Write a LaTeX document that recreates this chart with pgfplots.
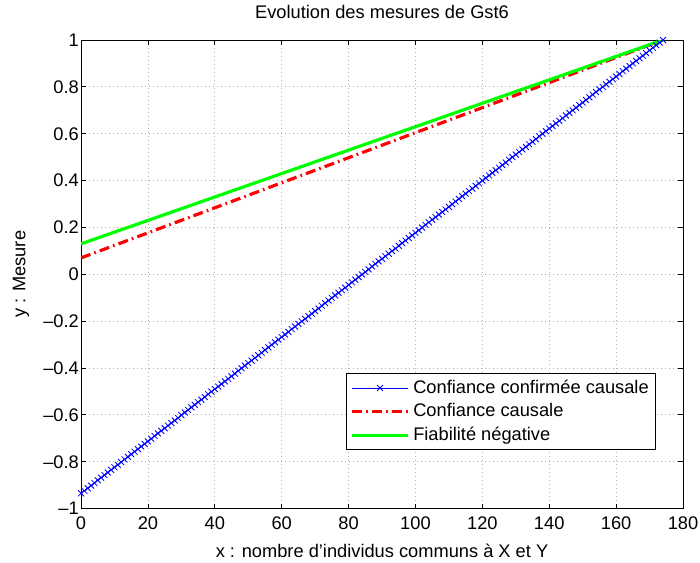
\documentclass[border=0pt,11pt]{standalone}
\usepackage{fontspec}
\setmainfont{Liberation Sans}
\usepackage{pgfplots}
\usepackage{pgfplotstable}
\pgfplotsset{compat=1.18}
\pgfplotstableread{
x y
0 -0.935
1 -0.924
2 -0.913
3 -0.902
4 -0.891
5 -0.879
6 -0.868
7 -0.857
8 -0.846
9 -0.835
10 -0.824
11 -0.813
12 -0.802
13 -0.790
14 -0.779
15 -0.768
16 -0.757
17 -0.746
18 -0.735
19 -0.724
20 -0.713
21 -0.702
22 -0.690
23 -0.679
24 -0.668
25 -0.657
26 -0.646
27 -0.635
28 -0.624
29 -0.613
30 -0.601
31 -0.590
32 -0.579
33 -0.568
34 -0.557
35 -0.546
36 -0.535
37 -0.524
38 -0.512
39 -0.501
40 -0.490
41 -0.479
42 -0.468
43 -0.457
44 -0.446
45 -0.435
46 -0.424
47 -0.412
48 -0.401
49 -0.390
50 -0.379
51 -0.368
52 -0.357
53 -0.346
54 -0.335
55 -0.323
56 -0.312
57 -0.301
58 -0.290
59 -0.279
60 -0.268
61 -0.257
62 -0.246
63 -0.234
64 -0.223
65 -0.212
66 -0.201
67 -0.190
68 -0.179
69 -0.168
70 -0.157
71 -0.146
72 -0.134
73 -0.123
74 -0.112
75 -0.101
76 -0.090
77 -0.079
78 -0.068
79 -0.057
80 -0.045
81 -0.034
82 -0.023
83 -0.012
84 -0.001
85 0.010
86 0.021
87 0.033
88 0.044
89 0.055
90 0.066
91 0.077
92 0.088
93 0.099
94 0.110
95 0.122
96 0.133
97 0.144
98 0.155
99 0.166
100 0.177
101 0.188
102 0.199
103 0.211
104 0.222
105 0.233
106 0.244
107 0.255
108 0.266
109 0.277
110 0.288
111 0.299
112 0.311
113 0.322
114 0.333
115 0.344
116 0.355
117 0.366
118 0.377
119 0.388
120 0.400
121 0.411
122 0.422
123 0.433
124 0.444
125 0.455
126 0.466
127 0.477
128 0.489
129 0.500
130 0.511
131 0.522
132 0.533
133 0.544
134 0.555
135 0.566
136 0.577
137 0.589
138 0.600
139 0.611
140 0.622
141 0.633
142 0.644
143 0.655
144 0.666
145 0.678
146 0.689
147 0.700
148 0.711
149 0.722
150 0.733
151 0.744
152 0.755
153 0.767
154 0.778
155 0.789
156 0.800
157 0.811
158 0.822
159 0.833
160 0.844
161 0.855
162 0.867
163 0.878
164 0.889
165 0.900
166 0.911
167 0.922
168 0.933
169 0.944
170 0.956
171 0.967
172 0.978
173 0.989
174 1.000
}\bluedata
\begin{document}
\begin{tikzpicture}
\begin{axis}[
  scale only axis,
  width=361pt, height=281pt,
  xmin=0, xmax=180, ymin=-1, ymax=1,
  xtick={0,20,40,60,80,100,120,140,160,180},
  ytick={-1,-0.8,-0.6,-0.4,-0.2,0,0.2,0.4,0.6,0.8,1},
  yticklabels={\textendash1,\textendash0.8,\textendash0.6,\textendash0.4,\textendash0.2,0,0.2,0.4,0.6,0.8,1},
  /pgf/number format/assume math mode=true,
  tick align=inside,
  major tick length=3pt,
  tick style={black, line width=0.5pt},
  axis line style={black, line width=0.6pt},
  grid=major,
  grid style={dotted, gray!60, line width=0.5pt},
  xtick pos=both, ytick pos=both,
  xticklabel style={yshift=-1pt},
  yticklabel style={xshift=2.5pt},
  title={Evolution des mesures de Gst6},
  title style={yshift=3pt},
  xlabel={x : nombre d'individus communs à X et Y},
  ylabel={y : Mesure},
  xlabel style={yshift=-1pt},
  ylabel style={yshift=1pt},
  legend style={at={(rel axis cs:0.955,0.124)}, anchor=south east,
    draw=black, line width=0.6pt, fill=white, font=\normalsize,
    row sep=0.5pt, inner xsep=2pt, inner ysep=2pt, cells={anchor=west}},
  legend cell align=left,
  legend image code/.code={%
    \draw[mark repeat=2,mark phase=2,#1] plot coordinates {(0pt,0pt) (17pt,0pt) (34pt,0pt)};},
]
\addplot[blue, line width=0.5pt, mark=x, mark size=2.5pt, mark options={solid}] table[x=x, y=y]{\bluedata};
\addlegendentry{Confiance confirmée causale}
\addplot[red, line width=1.9pt, dash pattern=on 6pt off 2.5pt on 1pt off 2.5pt] coordinates {(0,0.07) (174,1.0)};
\addlegendentry{Confiance causale}
\addplot[green, line width=1.9pt] coordinates {(0,0.13) (174,1.0)};
\addlegendentry{Fiabilité négative}
\end{axis}
\pgfresetboundingbox
\useasboundingbox ([shift={(-48.6pt,-32.4pt)}]current axis.south west) rectangle ([shift={(10.2pt,24pt)}]current axis.north east);
\end{tikzpicture}
\end{document}
